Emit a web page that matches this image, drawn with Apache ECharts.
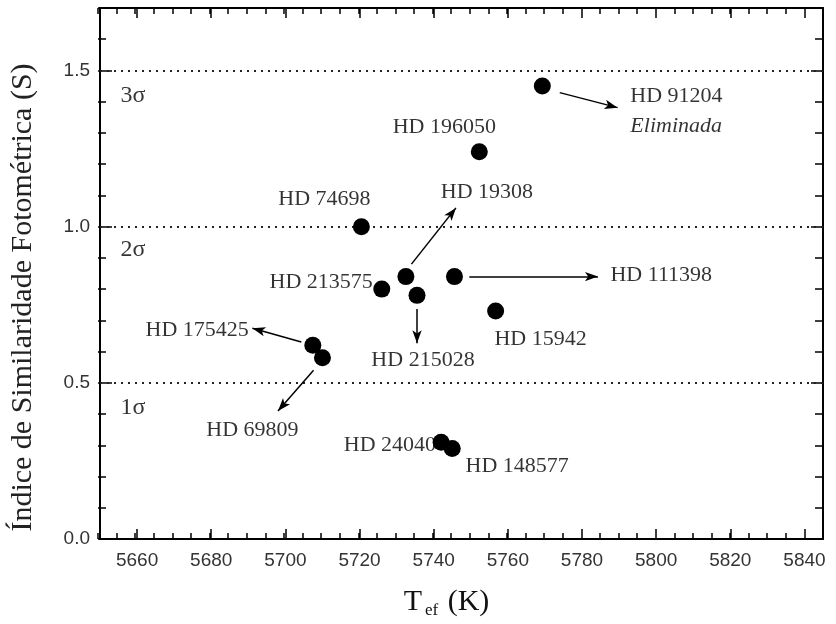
<!DOCTYPE html>
<html>
<head>
<meta charset="utf-8">
<script src="https://cdn.jsdelivr.net/npm/echarts@6/dist/echarts.min.js"></script>
<style>
  html, body { margin: 0; padding: 0; background: #fff; }
  #chart { width: 836px; height: 624px; }
</style>
</head>
<body>
<div id="chart"></div>
<script>
// star names, effective temperature (K) and photometric similarity index S
var starNames = ['HD 91204', 'HD 196050', 'HD 74698', 'HD 19308', 'HD 111398', 'HD 213575',
  'HD 215028', 'HD 15942', 'HD 175425', 'HD 69809', 'HD 24040', 'HD 148577'];
var teff = [5769.3, 5752.3, 5720.5, 5732.5, 5745.6, 5726.0, 5735.5, 5756.7, 5707.4, 5710.0, 5742.0, 5745.0];
var simS = [1.45, 1.24, 1.00, 0.84, 0.84, 0.80, 0.78, 0.73, 0.62, 0.58, 0.31, 0.29];

// sigma thresholds
var sigmaLevels = [0.5, 1.0, 1.5];
var sigmaNames = ['1σ', '2σ', '3σ'];
var sigmaLabelY = [0.42, 0.925, 1.42];

// axis ticks
var xMajor = [5660, 5680, 5700, 5720, 5740, 5760, 5780, 5800, 5820, 5840];
var yMajor = [0.0, 0.5, 1.0, 1.5];

// arrows: [fromT, fromS, toT, toS]
var arrows = [
  [5774.0, 1.429, 5789.6, 1.381],
  [5734.0, 0.880, 5746.0, 1.060],
  [5749.6, 0.840, 5784.3, 0.840],
  [5735.5, 0.736, 5735.5, 0.627],
  [5704.3, 0.631, 5691.1, 0.675],
  [5707.6, 0.540, 5698.0, 0.410]
];

// label layout (pixel offsets from each dot)
var labelAlign = ['left', 'center', 'center', 'center', 'left', 'right',
  'center', 'center', 'right', 'center', 'right', 'center'];
var labelOffset = [[88, 25], [-35, -24], [-37, -27], [81, -84], [156, -1], [-9, -7],
  [6, 65], [45, 28], [-64, -15], [-70, 72], [-5, 3], [65, 18]];

var xMinor = [], yMinor = [];
for (var v = 5650; v <= 5845; v += 5) xMinor.push(v);
for (var k = 0; k <= 17; k++) yMinor.push(+(k / 10).toFixed(1));

var SERIF = '"Liberation Serif", "DejaVu Serif", serif';
var SANS = '"Liberation Sans", Arial, sans-serif';
var INK = '#000';

function xAxisDef(grid, pos, ticks, len, withLine, withLabels) {
  return {
    type: 'value', gridIndex: grid, position: pos, min: 5650, max: 5845,
    axisLine: { show: withLine, onZero: false, lineStyle: { color: INK, width: 2 } },
    axisTick: { show: true, inside: true, length: len, customValues: ticks,
      lineStyle: { color: INK, width: 1.5 } },
    axisLabel: withLabels ? { show: true, customValues: xMajor, color: '#333',
      fontFamily: SANS, fontSize: 19, margin: 12,
      formatter: function (v) { return String(v); } } : { show: false },
    splitLine: { show: false }
  };
}
function yAxisDef(grid, pos, ticks, len, withLine, withLabels) {
  return {
    type: 'value', gridIndex: grid, position: pos, min: 0, max: 1.7,
    axisLine: { show: withLine, onZero: false, lineStyle: { color: INK, width: 2 } },
    axisTick: { show: true, inside: true, length: len, customValues: ticks,
      lineStyle: { color: INK, width: 1.5 } },
    axisLabel: withLabels ? { show: true, customValues: yMajor, color: '#333',
      fontFamily: SANS, fontSize: 19, margin: 10,
      formatter: function (v) { return v.toFixed(1); } } : { show: false },
    splitLine: { show: false }
  };
}

// grid 0 carries the data, labels and major ticks; grid 1 only the minor ticks
var xAxes = [
  xAxisDef(0, 'bottom', xMajor, 10, true, true),
  xAxisDef(0, 'top', xMajor, 10, true, false),
  xAxisDef(1, 'bottom', xMinor, 6, false, false),
  xAxisDef(1, 'top', xMinor, 6, false, false)
];
xAxes[0].name = '{t|T}{s|ef}{k| (K)}';
xAxes[0].nameLocation = 'middle';
xAxes[0].nameGap = 46;
xAxes[0].nameTextStyle = {
  fontFamily: SERIF, color: '#111', padding: [0, 30, 0, 0],
  rich: {
    t: { fontFamily: SERIF, fontSize: 30, color: '#111', padding: [0, 3, 0, 0] },
    s: { fontFamily: SERIF, fontSize: 17, color: '#111', padding: [17, 2, 0, 0] },
    k: { fontFamily: SERIF, fontSize: 30, color: '#111' }
  }
};

var yAxes = [
  yAxisDef(0, 'left', yMajor, 12, true, true),
  yAxisDef(0, 'right', yMajor, 12, true, false),
  yAxisDef(1, 'left', yMinor, 8, false, false),
  yAxisDef(1, 'right', yMinor, 8, false, false)
];
yAxes[0].name = 'Índice de Similaridade Fotométrica (S)';
yAxes[0].nameLocation = 'middle';
yAxes[0].nameGap = 62;
yAxes[0].nameTextStyle = { fontFamily: SERIF, fontSize: 30, color: '#222', padding: [0, 48, 0, 0] };

var dotData = teff.map(function (t, i) { return { value: [t, simS[i]], name: starNames[i] }; });

var labelData = teff.map(function (t, i) {
  var text = starNames[i];
  if (i === 0) text = '{n|' + starNames[i] + '}\n{e|Eliminada}';
  return {
    value: [t, simS[i]],
    name: starNames[i],
    label: { formatter: text, align: labelAlign[i], offset: labelOffset[i] }
  };
});

var sigmaData = sigmaNames.map(function (n, i) {
  return { value: [5655.5, sigmaLabelY[i]], name: n };
});

var arrowData = arrows.map(function (a) {
  return [
    { coord: [a[0], a[1]], symbol: 'none' },
    { coord: [a[2], a[3]], symbol: 'arrow', symbolSize: [7, 13] }
  ];
});

var gridBox = { left: 98, top: 8, right: 13, bottom: 85 };

var option = {
  animation: false,
  backgroundColor: '#fff',
  grid: [gridBox, Object.assign({}, gridBox)],
  xAxis: xAxes,
  yAxis: yAxes,
  series: [
    {
      // sigma threshold lines
      type: 'line', data: [], xAxisIndex: 0, yAxisIndex: 0,
      markLine: {
        silent: true, symbol: 'none',
        label: { show: false },
        lineStyle: { color: '#222', type: [2, 5], width: 2 },
        data: sigmaLevels.map(function (s) { return { yAxis: s }; })
      }
    },
    {
      // pointer arrows
      type: 'line', data: [], xAxisIndex: 0, yAxisIndex: 0,
      markLine: {
        silent: true,
        label: { show: false },
        lineStyle: { color: INK, type: 'solid', width: 1.5 },
        data: arrowData
      }
    },
    {
      name: 'labels', type: 'scatter', symbolSize: 0, z: 1,
      xAxisIndex: 0, yAxisIndex: 0,
      data: labelData,
      label: {
        show: true, position: 'inside', verticalAlign: 'middle',
        fontFamily: SERIF, fontSize: 22, color: INK,
        rich: {
          n: { fontFamily: SERIF, fontSize: 22, color: INK, lineHeight: 30 },
          e: { fontFamily: SERIF, fontSize: 22, color: INK, fontStyle: 'italic', lineHeight: 30 }
        }
      }
    },
    {
      name: 'sigma', type: 'scatter', symbolSize: 0, z: 1,
      xAxisIndex: 0, yAxisIndex: 0,
      data: sigmaData,
      label: {
        show: true, position: 'inside', align: 'left', verticalAlign: 'middle',
        formatter: '{b}', fontFamily: SERIF, fontSize: 24, color: INK
      }
    },
    {
      name: 'stars', type: 'scatter', symbol: 'circle', symbolSize: 17, z: 5,
      xAxisIndex: 0, yAxisIndex: 0,
      itemStyle: { color: '#000', opacity: 1 },
      data: dotData
    }
  ]
};

var chart = echarts.init(document.getElementById('chart'), null, { renderer: 'canvas' });
chart.setOption(option);
</script>
</body>
</html>
